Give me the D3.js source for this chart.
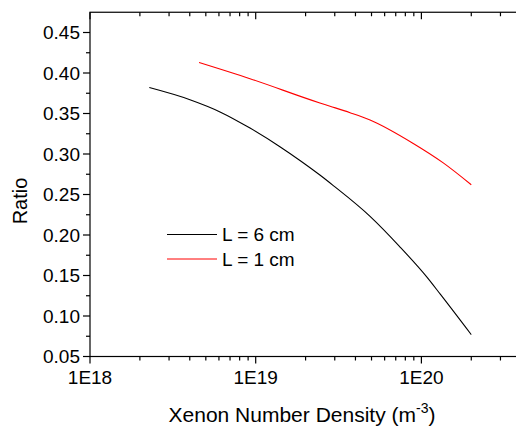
<!DOCTYPE html>
<html>
<head>
<meta charset="utf-8">
<script src="https://cdn.jsdelivr.net/npm/d3@7"></script>
<style>
  html, body { margin: 0; padding: 0; background: #fff; }
  svg { display: block; font-family: Arial, "Liberation Sans", sans-serif; }
</style>
</head>
<body>
<svg id="chart" width="516" height="427"></svg>
<script>
// Ratio vs xenon number density for two cell lengths
const densityL6 = [2.28e18, 4.01e18, 6.09e18, 9.24e18, 1.40e19, 1.85e19, 2.44e19, 2.94e19, 4.90e19, 7.37e19, 1.08e20, 1.30e20, 2.0e20];
const ratioL6   = [0.382, 0.367, 0.352, 0.332, 0.309, 0.292, 0.274, 0.261, 0.223, 0.186, 0.148, 0.127, 0.077];

const densityL1 = [4.55e18, 9.24e18, 2.44e19, 2.81e19, 3.71e19, 4.90e19, 8.93e19, 1.355e20, 2.0e20];
const ratioL1   = [0.413, 0.393, 0.363, 0.359, 0.351, 0.342, 0.313, 0.289, 0.262];

const seriesNames = ["L = 6 cm", "L = 1 cm"];
const seriesColors = ["#000000", "#ff0000"];

const yTicks = [0.05, 0.10, 0.15, 0.20, 0.25, 0.30, 0.35, 0.40, 0.45];
const xTickLabels = ["1E18", "1E19", "1E20"];
const xDomain = [1e18, 4e20];
const yDomain = [0.05, 0.475];

(function draw() {
  const svg = d3.select("#chart");
  const plotLeft = 90, plotTop = 12.25, plotBottom = 356.5;
  const decade = 165.7;
  const plotRight = plotLeft + Math.log10(xDomain[1] / xDomain[0]) * decade;

  const x = d3.scaleLog().domain(xDomain).range([plotLeft, plotRight]);
  const y = d3.scaleLinear().domain(yDomain).range([plotBottom, plotTop]);

  // minor tick positions
  const xMinor = [];
  for (let e = 18; e <= 20; e++) for (let m = 2; m <= 9; m++) {
    const v = m * Math.pow(10, e);
    if (v <= xDomain[1]) xMinor.push(v);
  }
  const yMinor = d3.range(0.075, 0.475, 0.05);

  const g = svg.append("g");
  const ax = g.append("g").attr("stroke", "#000").attr("stroke-width", 1.2).attr("fill", "none");

  // frame
  ax.append("rect").attr("x", plotLeft).attr("y", plotTop)
    .attr("width", plotRight - plotLeft).attr("height", plotBottom - plotTop);

  // bottom ticks (outward) and top ticks (inward)
  const xMajor = xTickLabels.map((_, i) => Math.pow(10, 18 + i));
  xMajor.forEach(v => {
    ax.append("line").attr("x1", x(v)).attr("x2", x(v)).attr("y1", plotBottom).attr("y2", plotBottom + 7);
    ax.append("line").attr("x1", x(v)).attr("x2", x(v)).attr("y1", plotTop).attr("y2", plotTop + 7);
  });
  xMinor.forEach(v => {
    ax.append("line").attr("x1", x(v)).attr("x2", x(v)).attr("y1", plotBottom).attr("y2", plotBottom + 4);
    ax.append("line").attr("x1", x(v)).attr("x2", x(v)).attr("y1", plotTop).attr("y2", plotTop + 4);
  });

  // left ticks (outward)
  yTicks.forEach(v => {
    ax.append("line").attr("x1", plotLeft - 7).attr("x2", plotLeft).attr("y1", y(v)).attr("y2", y(v));
  });
  yMinor.forEach(v => {
    ax.append("line").attr("x1", plotLeft - 4).attr("x2", plotLeft).attr("y1", y(v)).attr("y2", y(v));
  });

  // tick labels
  const fmt = d3.format(".2f");
  g.append("g").selectAll("text").data(yTicks).join("text")
    .attr("x", plotLeft - 10).attr("y", d => y(d)).attr("dy", "0.35em")
    .attr("text-anchor", "end").attr("font-size", 19).attr("fill", "#000")
    .text(d => fmt(d));

  g.append("g").selectAll("text").data(xMajor).join("text")
    .attr("x", d => x(d)).attr("y", 383.5)
    .attr("text-anchor", "middle").attr("font-size", 19).attr("fill", "#000")
    .text((d, i) => xTickLabels[i]);

  // axis titles
  const xt = g.append("text").attr("x", 302).attr("y", 421.5)
    .attr("text-anchor", "middle").attr("font-size", 21).attr("fill", "#000");
  xt.append("tspan").text("Xenon Number Density (m");
  xt.append("tspan").attr("dy", -9).attr("font-size", 14).text("-3");
  xt.append("tspan").attr("dy", 9).text(")");

  g.append("text").attr("transform", "translate(27,201) rotate(-90)")
    .attr("text-anchor", "middle").attr("font-size", 20).attr("fill", "#000")
    .text("Ratio");

  // series lines
  const line = d3.line().x(d => x(d[0])).y(d => y(d[1])).curve(d3.curveMonotoneX);
  const series = [d3.zip(densityL6, ratioL6), d3.zip(densityL1, ratioL1)];
  svg.append("clipPath").attr("id", "plotclip").append("rect")
    .attr("x", plotLeft).attr("y", plotTop)
    .attr("width", plotRight - plotLeft).attr("height", plotBottom - plotTop);
  g.append("g").attr("clip-path", "url(#plotclip)").selectAll("path").data(series).join("path")
    .attr("d", line).attr("fill", "none")
    .attr("stroke", (d, i) => seriesColors[i]).attr("stroke-width", 1.1);

  // legend
  const lg = g.append("g");
  seriesNames.forEach((name, i) => {
    const ly = 234.5 + i * 24.5;
    lg.append("line").attr("x1", 167).attr("x2", 217).attr("y1", ly).attr("y2", ly)
      .attr("stroke", seriesColors[i]).attr("stroke-width", 1);
    lg.append("text").attr("x", 222).attr("y", ly).attr("dy", "0.36em")
      .attr("font-size", 19).attr("fill", "#000").text(name);
  });
})();
</script>
</body>
</html>
